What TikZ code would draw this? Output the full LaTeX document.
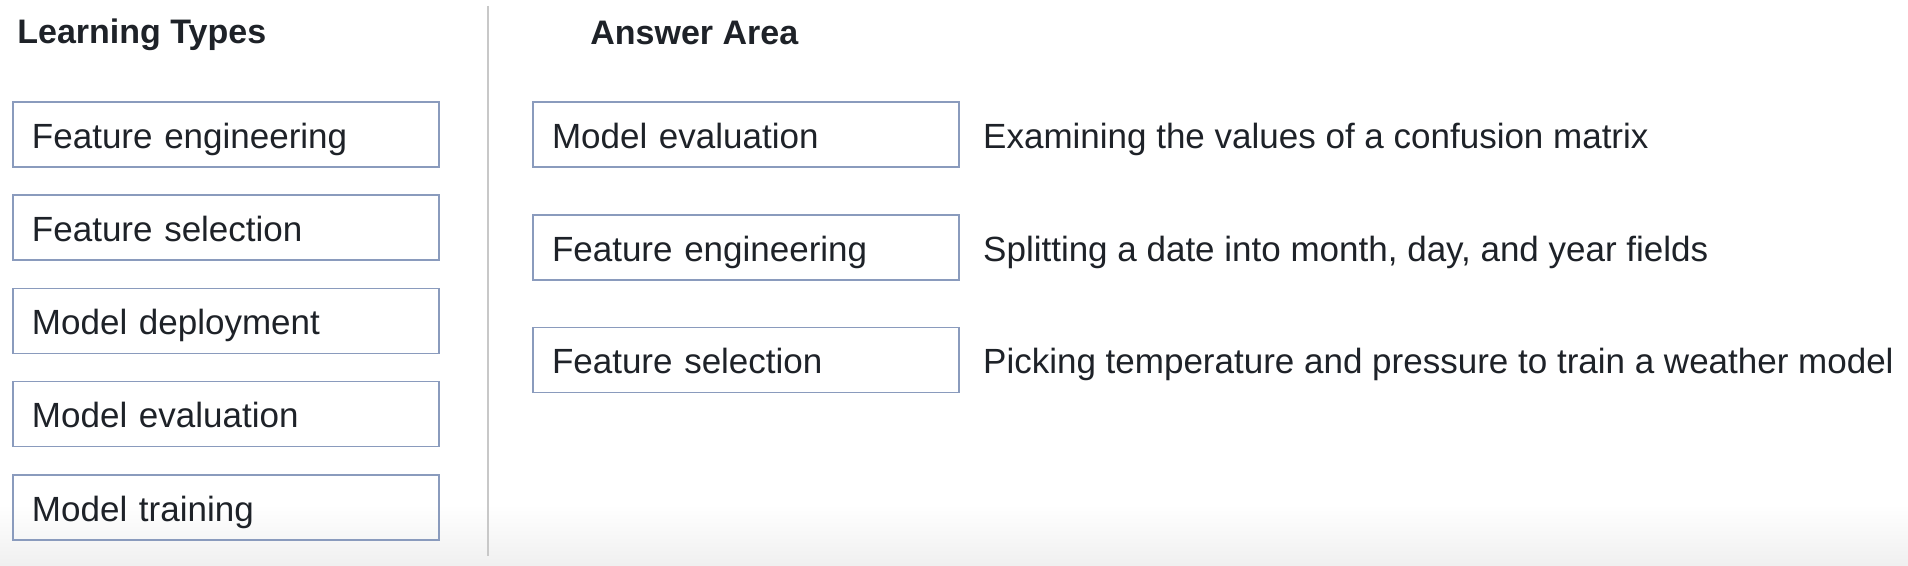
\documentclass[tikz,border=0pt]{standalone}
\usepackage{fontspec}
\setmainfont{Liberation Sans}
\usepackage{tikz}
\usetikzlibrary{positioning}
\definecolor{boxblue}{HTML}{8A9BBD}
\definecolor{rulegray}{HTML}{C8C8C8}
\definecolor{inkdark}{HTML}{1E2228}

\begin{document}
\begin{tikzpicture}[
  x=0.5pt, y=-0.5pt,
  every node/.style={text=inkdark, font=\fontsize{17.5}{21}\selectfont},
  typebox/.style={draw=boxblue, line width=0.8pt, rectangle,
    text width=194pt, inner xsep=9.5pt, inner ysep=0pt,
    minimum height=32.5pt, align=left,
    text height=17.5pt, text depth=3.7pt},
  heading/.style={anchor=base west, inner sep=0pt,
    font=\fontsize{17}{20}\selectfont\bfseries},
  usage/.style={anchor=west, inner sep=0pt,
    text height=17.5pt, text depth=3.7pt},
  ]
  \useasboundingbox (0,0) rectangle (1908,566);
  \fill[white] (0,0) rectangle (1908,566);
  \shade[top color=white, bottom color=black!6] (0,505) rectangle (1908,566);

  % headings and divider
  \node[heading] (learnhead) at (17,44) {Learning Types};
  \node[heading] (answerhead) at (590,45) {Answer Area};
  \draw[rulegray, line width=0.9pt] (488,6) -- (488,556);

  % learning types
  \node[typebox] (type1) at (226,134.5) {Feature engineering};
  \node[typebox, below=13.3pt of type1] (type2) {Feature selection};
  \node[typebox, below=13.3pt of type2] (type3) {Model deployment};
  \node[typebox, below=13.3pt of type3] (type4) {Model evaluation};
  \node[typebox, below=13.3pt of type4] (type5) {Model training};

  % answer area
  \node[typebox] (answer1) at (746,134.5) {Model evaluation};
  \node[typebox, below=23.1pt of answer1] (answer2) {Feature engineering};
  \node[typebox, below=23.1pt of answer2] (answer3) {Feature selection};

  \node[usage, right=11.5pt of answer1] (use1) {Examining the values of a confusion matrix};
  \node[usage, right=11.5pt of answer2] (use2) {Splitting a date into month, day, and year fields};
  \node[usage, right=11.5pt of answer3] (use3) {Picking temperature and pressure to train a weather model};
\end{tikzpicture}
\end{document}
